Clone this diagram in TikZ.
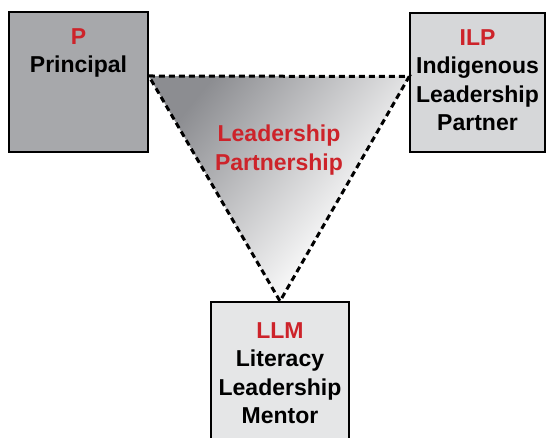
\documentclass[tikz,border=0pt]{standalone}
\usepackage{fontspec}
\setmainfont{Liberation Sans}
\usetikzlibrary{positioning}
\definecolor{llred}{RGB}{205,35,42}
\definecolor{pgray}{RGB}{167,168,171}
\definecolor{ilpgray}{RGB}{214,215,217}
\definecolor{llmgray}{RGB}{229,230,231}
\definecolor{tridark}{RGB}{140,141,145}
\definecolor{trilight}{RGB}{255,255,255}
\pgfdeclarehorizontalshading{trishade}{100bp}{color(0bp)=(tridark); color(25bp)=(tridark); color(67bp)=(trilight); color(100bp)=(trilight)}
\tikzset{
  rolebox/.style={draw=black, line width=1.6pt, inner sep=0pt},
  roletext/.style={align=center, font=\bfseries\fontsize{23}{28.5}\selectfont, inner sep=0pt},
  partline/.style={line width=3pt, dash pattern=on 6pt off 4pt},
}
\begin{document}
\begin{tikzpicture}[x=1pt,y=1pt]
\useasboundingbox (0,0) rectangle (546,438);
\node[rolebox, fill=pgray, minimum width=139pt, minimum height=140pt] (P) at (78.5,356) {};
\node[rolebox, fill=ilpgray, minimum width=135pt, minimum height=139pt] (ILP) at (477.5,355.5) {};
\node[rolebox, fill=llmgray, minimum width=138pt, minimum height=150pt] (LLM) at (280,61) {};
\coordinate (tl) at ([yshift=6pt]P.east);
\coordinate (tr) at ([yshift=6pt]ILP.west);
\shade[shading=trishade, shading angle=-39] (tl) -- (tr) -- (LLM.north) -- cycle;
\draw[partline] (tl) -- (tr) -- (LLM.north) -- cycle;
\node[roletext, below=17pt of P.north] (Ptext) {\textcolor{llred}{P}\\Principal};
\node[roletext, below=17pt of ILP.north] (ILPtext) {\textcolor{llred}{ILP}\\Indigenous\\Leadership\\Partner};
\node[roletext, below=21pt of LLM.north] (LLMtext) {\textcolor{llred}{LLM}\\Literacy\\Leadership\\Mentor};
\node[roletext, text=llred] (LPtext) at (279,288) {Leadership\\Partnership};
\end{tikzpicture}
\end{document}
